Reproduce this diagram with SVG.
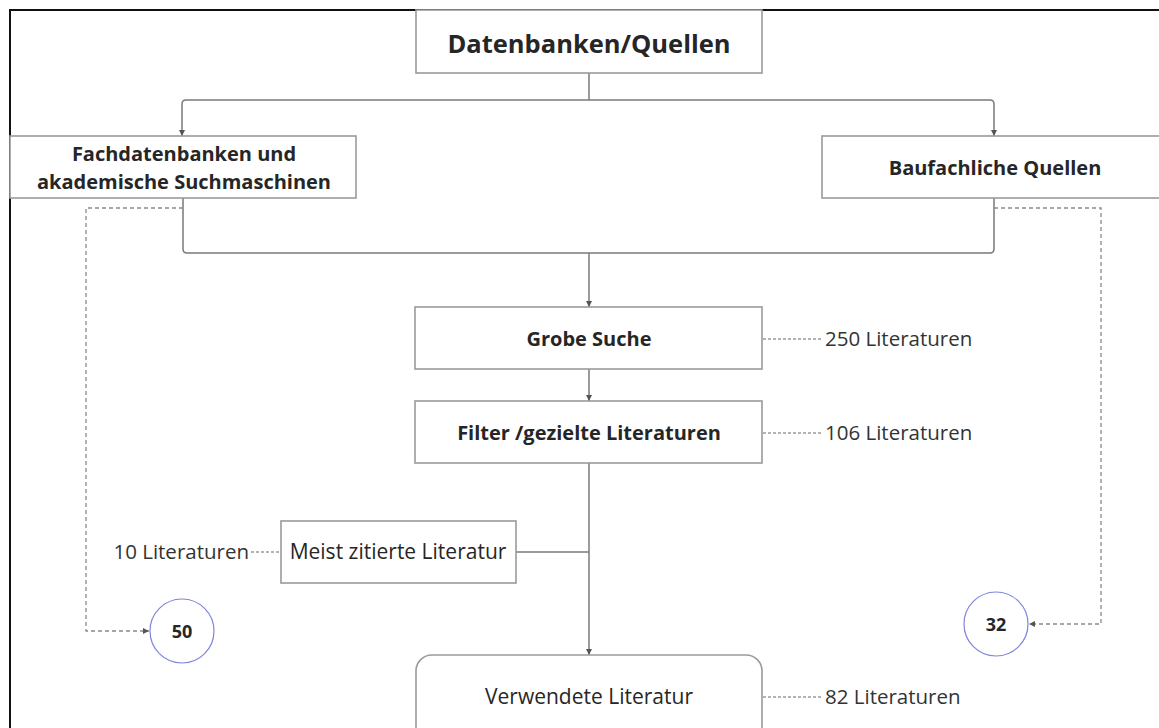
<svg xmlns="http://www.w3.org/2000/svg" width="1159" height="728" viewBox="0 0 1159 728">
  <style>
    .box { fill: #ffffff; stroke: #9a9a9a; stroke-width: 1.6; }
    .circ { fill: #ffffff; stroke: #7f84dc; stroke-width: 1.2; }
    .t { font-family: "Open Sans", "Noto Sans", "DejaVu Sans", sans-serif; fill: #262626; text-anchor: middle; }
    .b { font-weight: bold; font-size: 20px; }
    .n { font-size: 21px; }
    .h { font-weight: bold; font-size: 25.5px; }
    .lbl { font-family: "Open Sans", "Noto Sans", "DejaVu Sans", sans-serif; font-size: 20.5px; fill: #333333; }
    .wire { fill: none; stroke: #7a7a7a; stroke-width: 1.5; }
    .dot { fill: none; stroke: #9a9a9a; stroke-width: 1.3; stroke-dasharray: 3 2; }
    .dash { fill: none; stroke: #8a8a8a; stroke-width: 1.3; stroke-dasharray: 4 3; }
  </style>
  <defs>
    <marker id="arr" markerWidth="8" markerHeight="8" refX="6" refY="3" orient="auto" markerUnits="userSpaceOnUse">
      <path d="M0,0 L6,3 L0,6 z" fill="#555555"/>
    </marker>
  </defs>

  <rect width="1159" height="728" fill="#ffffff"/>
  <!-- outer frame -->
  <rect x="10" y="10" width="1170" height="740" fill="none" stroke="#111111" stroke-width="2"/>

  <g id="connectors">
    <!-- split from the top node -->
    <path class="wire" d="M589,73 V100"/>
    <path class="wire" d="M589,100 H186 Q182,100 182,104 V136" marker-end="url(#arr)"/>
    <path class="wire" d="M589,100 H990 Q994,100 994,104 V136" marker-end="url(#arr)"/>
    <!-- merge into Grobe Suche -->
    <path class="wire" d="M183,198 V249 Q183,253 187,253 H990 Q994,253 994,249 V198"/>
    <path class="wire" d="M589,253 V307" marker-end="url(#arr)"/>
    <path class="wire" d="M589,369 V401" marker-end="url(#arr)"/>
    <path class="wire" d="M589,463 V655" marker-end="url(#arr)"/>
    <path class="wire" d="M516,552 H589"/>
    <!-- side counts -->
    <path class="dash" d="M183,208 H86 V631 H149" marker-end="url(#arr)"/>
    <path class="dash" d="M994,208 H1101 V624 H1029" marker-end="url(#arr)"/>
    <path class="dot" d="M763,339 H822"/>
    <path class="dot" d="M763,433 H822"/>
    <path class="dot" d="M251,552 H281"/>
    <path class="dot" d="M763,697 H822"/>
  </g>

  <g id="datenbanken">
    <rect class="box" x="416" y="10" width="346" height="63"/>
    <text class="t h" x="589" y="53">Datenbanken/Quellen</text>
  </g>

  <g id="fachdatenbanken">
    <rect class="box" x="10" y="136" width="346" height="62"/>
    <text class="t b" x="184" y="161">Fachdatenbanken und</text>
    <text class="t b" x="184" y="189">akademische Suchmaschinen</text>
  </g>

  <g id="baufachliche">
    <rect class="box" x="822" y="136" width="344" height="62"/>
    <text class="t b" x="995" y="175">Baufachliche Quellen</text>
  </g>

  <g id="grobe-suche">
    <rect class="box" x="415" y="307" width="347" height="62"/>
    <text class="t b" x="589" y="346">Grobe Suche</text>
  </g>
  <text class="lbl" x="825" y="346">250 Literaturen</text>

  <g id="filter">
    <rect class="box" x="415" y="401" width="347" height="62"/>
    <text class="t b" x="589" y="440">Filter /gezielte Literaturen</text>
  </g>
  <text class="lbl" x="825" y="440">106 Literaturen</text>

  <g id="meist-zitiert">
    <rect class="box" x="281" y="521" width="235" height="62"/>
    <text class="t n" x="398" y="559">Meist zitierte Literatur</text>
  </g>
  <text class="lbl" x="249" y="559" text-anchor="end">10 Literaturen</text>

  <g id="verwendete">
    <rect class="box" x="416" y="655" width="346" height="100" rx="16" ry="16"/>
    <text class="t n" x="589" y="704">Verwendete Literatur</text>
  </g>
  <text class="lbl" x="825" y="704">82 Literaturen</text>

  <g id="count-50">
    <circle class="circ" cx="182" cy="631" r="32"/>
    <text class="t" x="182" y="638" font-size="18" font-weight="bold">50</text>
  </g>

  <g id="count-32">
    <circle class="circ" cx="996" cy="624" r="32"/>
    <text class="t" x="996" y="631" font-size="18" font-weight="bold">32</text>
  </g>
</svg>
